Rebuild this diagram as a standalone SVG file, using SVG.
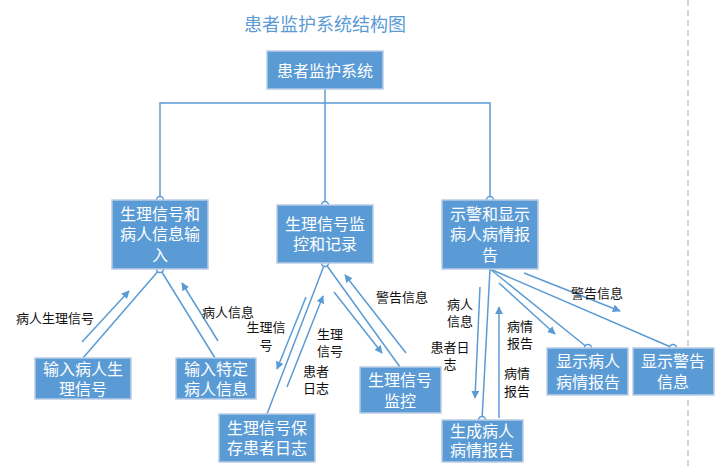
<svg xmlns="http://www.w3.org/2000/svg" width="719" height="470" viewBox="0 0 719 470">
<style>
.box{fill:#5b9bd5;stroke:#b8cce4;stroke-width:1.5}
.bt{fill:#fff;font-family:"Noto Sans CJK SC","Noto Sans",sans-serif;font-size:16px;text-anchor:middle;dominant-baseline:central}
.lbl{fill:#111;font-family:"Noto Sans CJK SC","Noto Sans",sans-serif;font-size:13px;text-anchor:middle;dominant-baseline:central}
.ln{stroke:#5b9bd5;stroke-width:1.5;fill:none}
.ar{stroke:#5b9bd5;stroke-width:1.5;fill:none;marker-end:url(#ah)}
.dot{fill:#fff;stroke:#5b9bd5;stroke-width:1.5}
</style>
<defs>
<marker id="ah" viewBox="0 0 10 10" refX="9" refY="5" markerWidth="8" markerHeight="8" markerUnits="userSpaceOnUse" orient="auto">
<path d="M0,0 L10,5 L0,10 z" fill="#5b9bd5"/>
</marker>
</defs>
<rect width="719" height="470" fill="#fff"/>
<line x1="688" y1="0" x2="688" y2="470" stroke="#c8c8c8" stroke-width="1.5" stroke-dasharray="6,4"/>
<text x="325" y="23" fill="#5b9bd5" font-family="Noto Sans CJK SC,Noto Sans,sans-serif" font-size="18" text-anchor="middle" dominant-baseline="central">患者监护系统结构图</text>
<g id="connectors">
<polyline class="ln" points="325,89 325,103"/>
<polyline class="ln" points="160,200 160,103 490,103 490,200"/>
<line class="ln" x1="325" y1="103" x2="325" y2="205"/>
<line class="ln" x1="160" y1="269" x2="83" y2="358"/>
<line class="ln" x1="160" y1="269" x2="215" y2="358"/>
<line class="ar" x1="82" y1="342" x2="129" y2="291"/>
<line class="ar" x1="218" y1="341" x2="182" y2="283"/>
<line class="ln" x1="325" y1="263" x2="267" y2="414"/>
<line class="ln" x1="325" y1="263" x2="400" y2="367"/>
<line class="ar" x1="306" y1="297" x2="277" y2="369"/>
<line class="ar" x1="287" y1="387" x2="323" y2="296"/>
<line class="ar" x1="334" y1="292" x2="382" y2="353"/>
<line class="ar" x1="406" y1="353" x2="345" y2="275"/>
<line class="ln" x1="490" y1="269" x2="482" y2="420"/>
<line class="ln" x1="490" y1="269" x2="588" y2="348"/>
<line class="ln" x1="490" y1="269" x2="673" y2="348"/>
<line class="ar" x1="480" y1="287" x2="475" y2="398"/>
<line class="ar" x1="499" y1="418" x2="499" y2="307"/>
<line class="ar" x1="499" y1="283" x2="555" y2="334"/>
<line class="ar" x1="524" y1="273" x2="620" y2="311"/>
<circle class="dot" cx="160" cy="200" r="3.5"/>
<circle class="dot" cx="160" cy="269" r="3.5"/>
<circle class="dot" cx="325" cy="205" r="3.5"/>
<circle class="dot" cx="325" cy="263" r="3.5"/>
<circle class="dot" cx="490" cy="200" r="3.5"/>
<circle class="dot" cx="482" cy="420" r="3.5"/>
<circle class="dot" cx="588" cy="348" r="3.5"/>
<circle class="dot" cx="673" cy="348" r="3.5"/>
</g>
<g id="labels">
<text class="lbl" x="55" y="317">病人生理信号</text>
<text class="lbl" x="228" y="311">病人信息</text>
<text class="lbl" x="266" y="326">生理信<tspan x="266" dy="18">号</tspan></text>
<text class="lbl" x="330" y="333">生理<tspan x="330" dy="17">信号</tspan></text>
<text class="lbl" x="316" y="370">患者<tspan x="316" dy="17">日志</tspan></text>
<text class="lbl" x="402" y="296">警告信息</text>
<text class="lbl" x="460" y="303">病人<tspan x="460" dy="17">信息</tspan></text>
<text class="lbl" x="450" y="346">患者日<tspan x="450" dy="17">志</tspan></text>
<text class="lbl" x="520" y="325">病情<tspan x="520" dy="17">报告</tspan></text>
<text class="lbl" x="517" y="372">病情<tspan x="517" dy="18">报告</tspan></text>
<text class="lbl" x="597" y="292" font-size="11">警告信息</text>
</g>
<g id="root"><rect class="box" x="267" y="51" width="116" height="38"/><text class="bt" x="325" y="70">患者监护系统</text></g>
<g id="n1"><rect class="box" x="112" y="200" width="96" height="69"/><text class="bt" x="160" y="213">生理信号和<tspan x="160" dy="20">病人信息输</tspan><tspan x="160" dy="21">入</tspan></text></g>
<g id="n2"><rect class="box" x="277" y="205" width="96" height="58"/><text class="bt" x="325" y="223">生理信号监<tspan x="325" dy="20">控和记录</tspan></text></g>
<g id="n3"><rect class="box" x="442" y="200" width="96" height="69"/><text class="bt" x="490" y="213">示警和显示<tspan x="490" dy="20">病人病情报</tspan><tspan x="490" dy="21">告</tspan></text></g>
<g id="n4"><rect class="box" x="35" y="358" width="96" height="41"/><text class="bt" x="83" y="368">输入病人生<tspan x="83" dy="20">理信号</tspan></text></g>
<g id="n5"><rect class="box" x="176" y="358" width="80" height="41"/><text class="bt" x="216" y="368">输入特定<tspan x="216" dy="20">病人信息</tspan></text></g>
<g id="n6"><rect class="box" x="219" y="414" width="96" height="48"/><text class="bt" x="267" y="427">生理信号保<tspan x="267" dy="20">存患者日志</tspan></text></g>
<g id="n7"><rect class="box" x="360" y="367" width="81" height="46"/><text class="bt" x="400" y="379">生理信号<tspan x="400" dy="21">监控</tspan></text></g>
<g id="n8"><rect class="box" x="442" y="420" width="81" height="42"/><text class="bt" x="482" y="430">生成病人<tspan x="482" dy="19">病情报告</tspan></text></g>
<g id="n9"><rect class="box" x="547" y="348" width="81" height="47"/><text class="bt" x="588" y="360">显示病人<tspan x="588" dy="21">病情报告</tspan></text></g>
<g id="n10"><rect class="box" x="633" y="348" width="81" height="47"/><text class="bt" x="673" y="360">显示警告<tspan x="673" dy="21">信息</tspan></text></g>
</svg>
